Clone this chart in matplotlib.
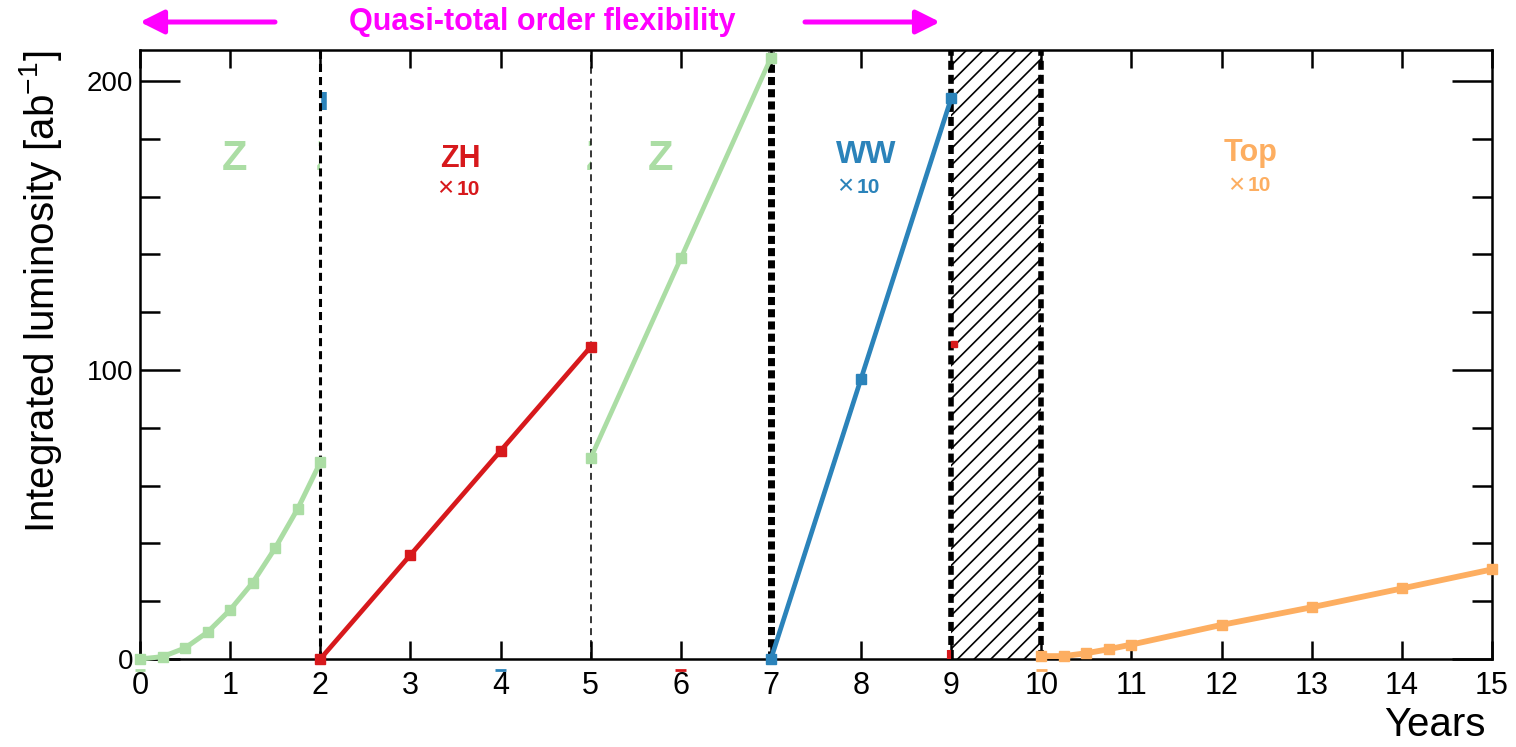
import matplotlib
matplotlib.use("Agg")
import matplotlib.pyplot as plt
from matplotlib.patches import Rectangle, FancyArrowPatch

plt.rcParams['font.family'] = ['Liberation Sans', 'DejaVu Sans']
plt.rcParams['lines.scale_dashes'] = False
plt.rcParams['hatch.linewidth'] = 1.2
plt.rcParams['mathtext.fontset'] = 'custom'
plt.rcParams['mathtext.rm'] = 'Liberation Sans'

# ---------------- data ----------------
z1_x = [0, 0.25, 0.5, 0.75, 1.0, 1.25, 1.5, 1.75, 2.0]
z1_y = [0, 0.8, 3.8, 9.3, 17, 26.4, 38.4, 52, 68]
zh_x = [2, 3, 4, 5]
zh_y = [0, 36, 72, 108]
z2_x = [5, 6, 7]
z2_y = [69.5, 138.6, 208]
ww_x = [7, 8, 9]
ww_y = [0, 97, 194]
top_x = [10, 10.25, 10.5, 10.75, 11, 12, 13, 14, 15]
top_y = [1, 1, 2, 3.4, 5, 11.8, 17.9, 24.4, 31]

x_ticks = list(range(16))
y_major = [0, 100, 200]
y_minor = [20, 40, 60, 80, 120, 140, 160, 180]
boundaries = [2, 5, 7, 9, 10]
shutdown = (9, 10)

GREEN = '#abdda4'
RED = '#d7191c'
BLUE = '#2b83ba'
ORANGE = '#fdae61'
MAGENTA = '#ff00ff'

W, H = 1516, 747
fig = plt.figure(figsize=(W / 100, H / 100), dpi=100)
ax = fig.add_axes([140 / W, 1 - 659 / H, (1492 - 140) / W, (659 - 50) / H])
ax.set_xlim(0, 15)
ax.set_ylim(0, 210.7)

# shutdown hatch
ax.axvspan(shutdown[0], shutdown[1], facecolor='none', edgecolor='k',
           hatch='//', lw=0, zorder=1)

# vertical boundary lines
ax.axvline(boundaries[0], color='k', lw=2.2, dashes=(5.8, 3.6), zorder=2)
ax.axvline(boundaries[1], color='k', lw=1.1, dashes=(5.0, 3.6), zorder=2)
ax.axvline(boundaries[2], color='k', lw=5.0, dashes=(5.8, 3.0), zorder=2)
ax.axvline(boundaries[3], color='k', lw=4.0, dashes=(6.5, 3.6), zorder=2)
ax.axvline(boundaries[4], color='k', lw=4.0, dashes=(6.5, 3.6), zorder=2)

# series
kw = dict(marker='s', markersize=7.5, clip_on=False, zorder=4)
ax.plot(z1_x, z1_y, color=GREEN, lw=3.6, **kw)
ax.plot(zh_x, zh_y, color=RED, lw=3.4, **kw)
ax.plot(z2_x, z2_y, color=GREEN, lw=3.4, **kw)
ax.plot(ww_x, ww_y, color=BLUE, lw=3.4, **kw)
ax.plot(top_x, top_y, color=ORANGE, lw=4.2, **kw)

# small stray marks in the original
ax.plot([2.04, 2.04], [190, 196], color=BLUE, lw=4, solid_capstyle='butt', zorder=1)
ax.plot([9.03], [109], marker='s', color=RED, markersize=5, zorder=5)
ax.plot([8.98, 8.98], [0, 3], color=RED, lw=3, solid_capstyle='butt',
        clip_on=False, zorder=5)
for xm, col in [(0, GREEN), (4, BLUE), (6, RED), (10, ORANGE)]:
    ax.plot([xm - 0.06, xm + 0.06], [-3.8, -3.8], color=col, lw=2,
            solid_capstyle='butt', clip_on=False)

# partially hidden green Z's at the boundaries (only a sliver visible)
for xb in (2, 5):
    t = ax.text(xb - 0.05, 173, 'Z', color=GREEN, fontsize=30, weight='bold',
                ha='left', va='center', zorder=1)
    clip = Rectangle((xb - 0.3, 0), 0.3, 211, transform=ax.transData)
    t.set_clip_path(clip)
    t.set_clip_on(True)

# region labels
ax.text(1.05, 173, 'Z', color=GREEN, fontsize=30, weight='bold', ha='center', va='center')
ax.text(5.77, 173, 'Z', color=GREEN, fontsize=30, weight='bold', ha='center', va='center')
ax.text(3.56, 173, 'ZH', color=RED, fontsize=22, weight='bold', ha='center', va='center')
ax.text(8.06, 174.4, 'WW', color=BLUE, fontsize=23, weight='bold', ha='center', va='center')
ax.text(12.32, 175, 'Top', color=ORANGE, fontsize=22, weight='bold', ha='center', va='center')
for xr, yy, col in [(3.473, 162.6, RED), (7.911, 163.3, BLUE), (12.249, 163.7, ORANGE)]:
    ax.text(xr, yy, '\u00d7', color=col, fontsize=20, ha='right', va='center')
    ax.text(xr + 0.035, yy, '10', color=col, fontsize=15, weight='bold',
            ha='left', va='center')

# axes styling
for s in ax.spines.values():
    s.set_linewidth(1.8)
ax.set_xticks(x_ticks)
ax.set_yticks(y_major)
ax.set_yticks(y_minor, minor=True)
ax.tick_params(axis='x', which='major', direction='in', length=13, width=1.8,
               top=True, labelsize=22, pad=9)
ax.tick_params(axis='y', which='major', direction='in', length=29, width=1.8,
               right=True, labelsize=20, pad=5)
ax.tick_params(axis='y', which='minor', direction='in', length=14.4, width=1.8,
               right=True)

# axis titles
fig.text(41 / W, 1 - 292 / H, 'Integrated luminosity [ab$^{\\mathregular{-1}}$]',
         rotation=90, fontsize=29, ha='center', va='center')
fig.text(1435 / W, 1 - 725 / H, 'Years', fontsize=29, ha='center', va='center')

# top annotation
fig.text(542 / W, 1 - 22 / H, 'Quasi-total order flexibility', color=MAGENTA,
         fontsize=22, weight='bold', ha='center', va='center')
arrow = dict(arrowstyle='-|>', color=MAGENTA, lw=3.6, mutation_scale=36,
             shrinkA=0, shrinkB=0)
fig.add_artist(FancyArrowPatch((275 / W, 1 - 22 / H), (140 / W, 1 - 22 / H),
                               transform=fig.transFigure, **arrow))
fig.add_artist(FancyArrowPatch((805 / W, 1 - 22 / H), (940 / W, 1 - 22 / H),
                               transform=fig.transFigure, **arrow))

fig.savefig('out.png', dpi=100)
